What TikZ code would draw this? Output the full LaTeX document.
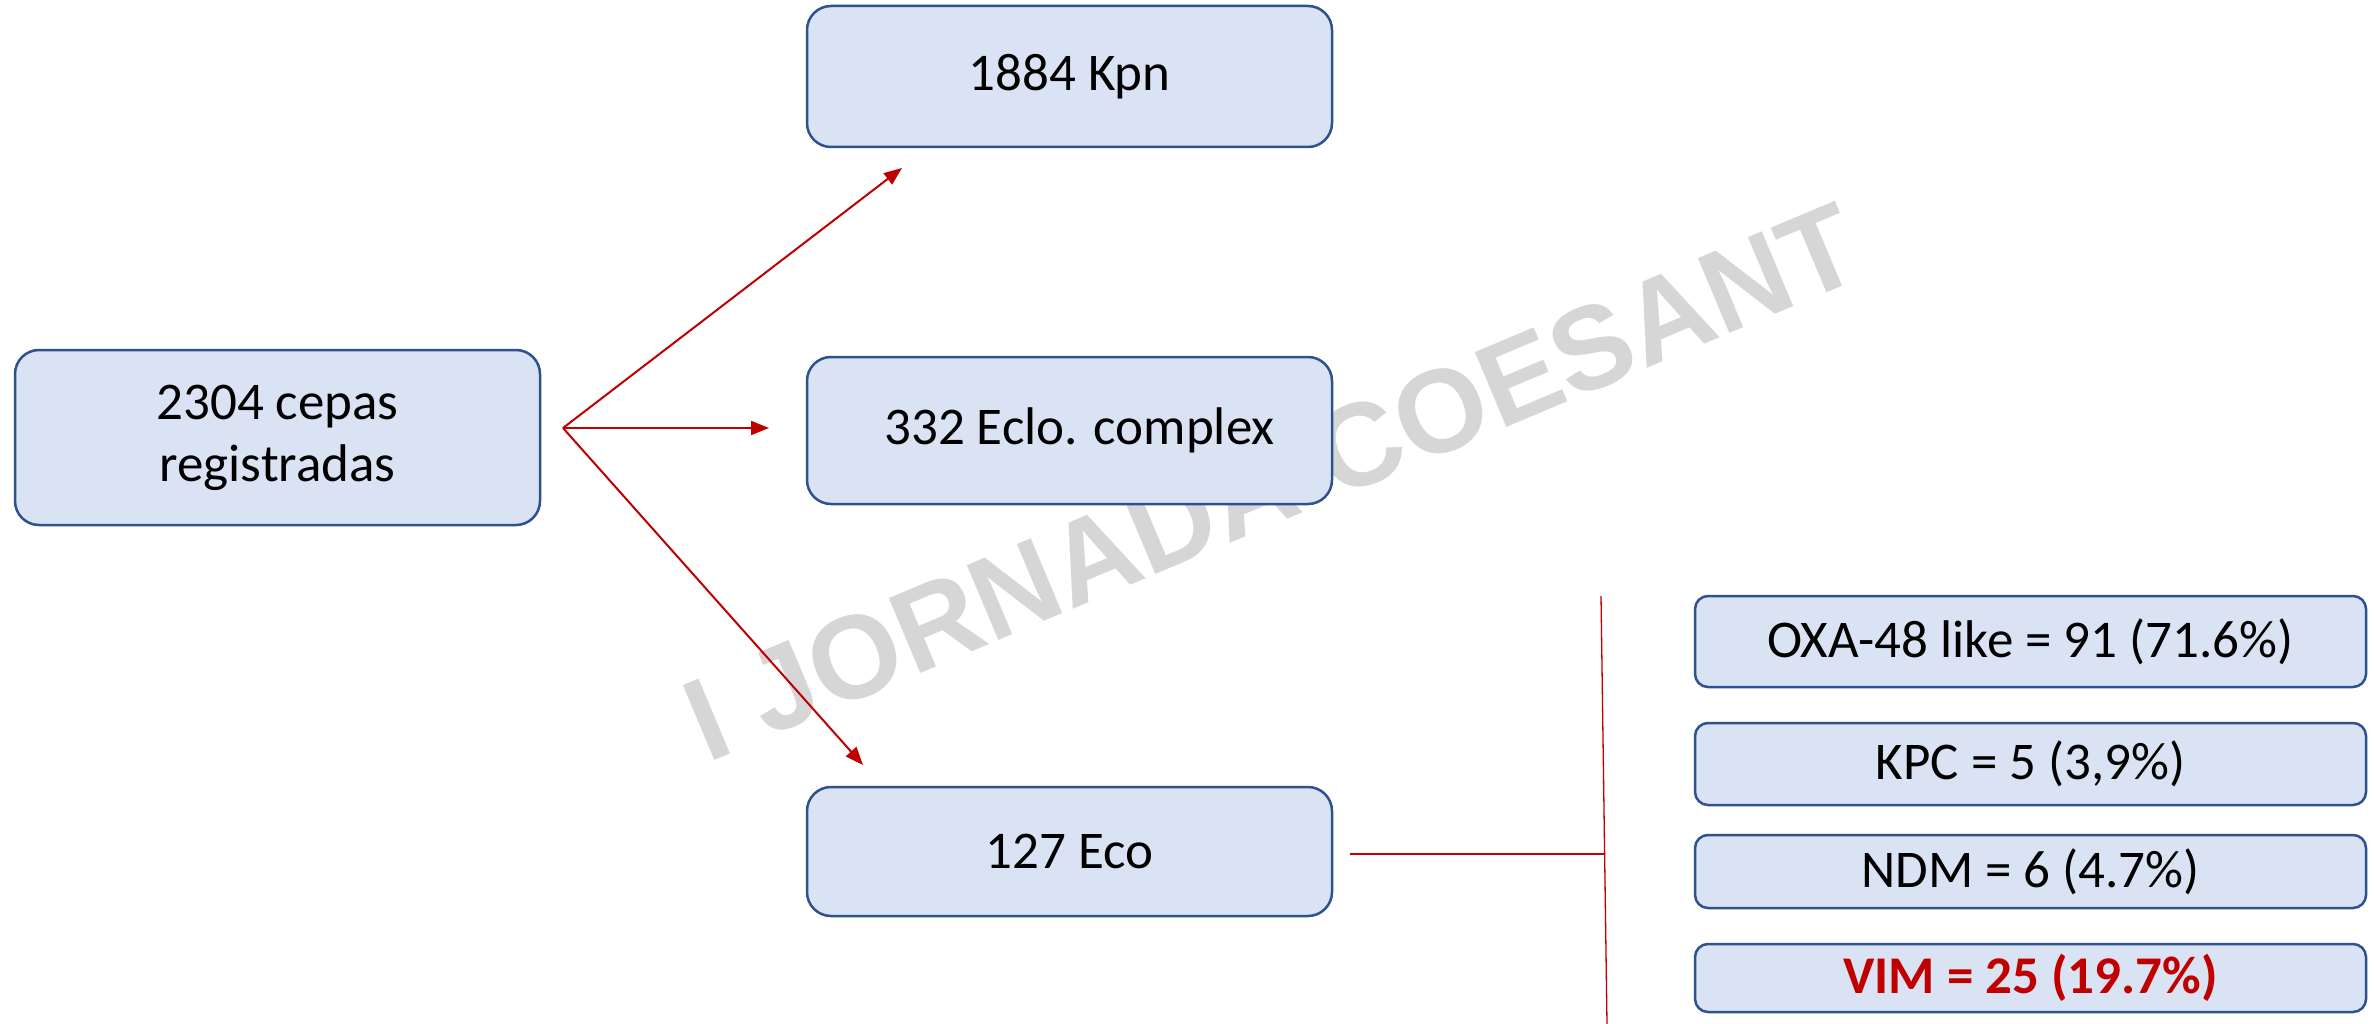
\documentclass[tikz,border=0pt]{standalone}
\usepackage{fontspec}
\setmainfont{Carlito}
\newfontfamily\wmfont{Liberation Sans}
\usetikzlibrary{arrows.meta}
\definecolor{boxfill}{HTML}{DAE3F3}
\definecolor{boxdraw}{HTML}{2F528F}
\definecolor{darkred}{HTML}{C00000}
\definecolor{wmgray}{HTML}{D6D6D6}
\begin{document}
\begin{tikzpicture}[x=1pt,y=-1pt,
  box/.style={draw=boxdraw, line width=2.5pt, fill=boxfill, rounded corners=24pt,
    font=\fontsize{53}{62}\selectfont, align=center, inner sep=0pt},
  sbox/.style={box, rounded corners=13pt},
  conn/.style={draw=darkred, line width=2pt},
  arr/.style={conn, -{Triangle[length=18pt,width=14pt]}}]
\fill[white] (0,0) rectangle (2374,1024);
\useasboundingbox (0,0) rectangle (2374,1024);
\node[rotate=22.8, text=wmgray, font=\wmfont\bfseries\fontsize{118}{130}\selectfont] (wm) at (1272,482) {I JORNADA COESANT};
\node[box, minimum width=525pt, minimum height=175pt] (A) at (277.5,437.5) {2304 cepas\\registradas};
\node[box, minimum width=525pt, minimum height=141pt] (B) at (1069.5,76.5) {1884 Kpn};
\node[box, minimum width=525pt, minimum height=147pt] (C) at (1069.5,430.5) {\hspace*{20pt}332 Eclo. complex};
\node[box, minimum width=525pt, minimum height=129pt] (D) at (1069.5,851.5) {127 Eco};
\node[sbox, minimum width=671pt, minimum height=91pt] (oxa) at (2030.5,641.5) {OXA-48 like = 91 (71.6\%)};
\node[sbox, minimum width=671pt, minimum height=82pt] (kpc) at (2030.5,764) {KPC = 5 (3,9\%)};
\node[sbox, minimum width=671pt, minimum height=73pt] (ndm) at (2030.5,871.5) {NDM = 6 (4.7\%)};
\node[sbox, minimum width=671pt, minimum height=68pt] (vim) at (2030.5,978) {\textcolor{darkred}{\bfseries VIM = 25 (19.7\%)}};
\coordinate (fork) at (563,428);
\coordinate (tB) at (902,168);
\coordinate (tC) at (769,428);
\coordinate (tD) at (863,765);
\draw[arr] (fork) -- (tB);
\draw[arr] (fork) -- (tC);
\draw[arr] (fork) -- (tD);
\coordinate (hs) at (1350,854);
\coordinate (vj) at (1603.5,854);
\coordinate (vt) at (1601,596);
\coordinate (vb) at (1607,1024);
\draw[conn] (hs) -- (vj);
\draw[draw=darkred, line width=1.3pt] (vt) -- (vb);
\end{tikzpicture}
\end{document}
